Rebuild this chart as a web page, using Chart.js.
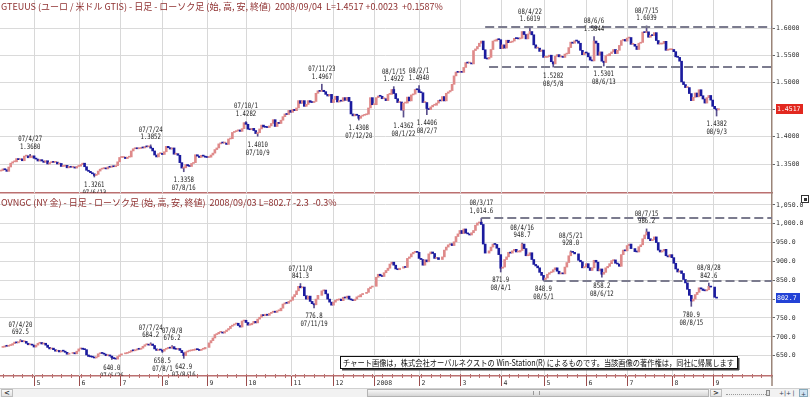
<!DOCTYPE html>
<html><head><meta charset="utf-8">
<script src="https://cdn.jsdelivr.net/npm/chart.js@4.4.1/dist/chart.umd.min.js"></script>
<style>
html,body{margin:0;padding:0;background:#fff;width:810px;height:397px;overflow:hidden;position:relative}
canvas{position:absolute;left:0}
#cTop{top:0}
#cBot{top:194px}
#sb{position:absolute;left:0;top:388px;width:810px;height:9px;background:#f2f2f2;border-top:1px solid #d0d0d0;box-sizing:border-box}
#sb div{position:absolute;box-sizing:border-box}
#lbtn,#rbtn{top:0;width:12px;height:8px;background:linear-gradient(#fafafa,#e2e2e2);border:1px solid #bdbdbd;font:bold 7px/6px 'DejaVu Sans';color:#333;text-align:center}
#lbtn{left:1px}#rbtn{left:710px}
#thumb{left:367px;top:0;width:342px;height:8px;background:linear-gradient(#f6f6f6,#d6d6d6);border:1px solid #b3b3b3}
#grip{left:165px;top:1px;width:7px;height:4px;border-left:1px solid #999;border-right:1px solid #999}
#mini{left:726px;top:5px;width:44px;height:1px;border-top:1px dotted #9a9a9a}
#mthumb{left:766px;top:1px;width:4px;height:6px;background:#e0e0e0;border:1px solid #8a8a8a}
.ic{top:0;width:9px;height:8px;font:6px/7px 'DejaVu Sans';color:#345;text-align:center}
</style></head>
<body>
<canvas id="cTop" width="810" height="194"></canvas>
<canvas id="cBot" width="810" height="194"></canvas>
<div id="sb">
  <div id="lbtn">&lt;</div>
  <div id="thumb"><div id="grip"></div></div>
  <div id="rbtn">&gt;</div>
  <div id="mini"></div><div id="mthumb"></div>
  <div class="ic" style="left:779px">+|+</div>
  <div class="ic" style="left:789px">|↔|</div>
  <div class="ic" style="left:799px;background:#cfe3f2;border:1px solid #8ab">+</div>
</div>
<script>
// ---------- axis / calendar (weekday slots, index 0 = 2007/04/06) ----------
const SLOTS = 397;
const monthStartIdx = [17,40,61,83,106,126,149,171,192,215,236,257,279,301,322,345,366];
const monthLabels = ['5','6','7','8','9','10','11','12','2008','2','3','4','5','6','7','8','9'];

// ---------- EUR/USD daily closes ----------
const eurFirstOpen = 1.3370;
const eurClose = [
 1.3380,1.3410,1.3395,1.3365,1.3445,1.3515,1.3540,1.3540,1.3600,1.3580,1.3595,1.3560,1.3645,1.3650,1.3615,1.3620,1.3650,
 1.3605,1.3590,1.3555,1.3580,1.3555,1.3530,1.3560,1.3500,1.3525,1.3540,1.3530,1.3535,1.3500,1.3510,1.3455,1.3460,1.3475,1.3430,1.3455,1.3440,1.3445,1.3425,1.3455,
 1.3460,1.3490,1.3515,1.3450,1.3385,1.3365,1.3340,1.3320,1.3290,1.3310,1.3370,1.3405,1.3415,1.3425,1.3410,1.3445,1.3440,1.3465,1.3450,1.3470,1.3540,
 1.3620,1.3620,1.3625,1.3600,1.3625,1.3630,1.3740,1.3780,1.3790,1.3780,1.3785,1.3800,1.3795,1.3820,1.3815,1.3815,1.3790,1.3740,1.3665,1.3630,1.3690,1.3695,
 1.3675,1.3725,1.3825,1.3800,1.3775,1.3795,1.3680,1.3690,1.3660,1.3525,1.3425,1.3430,1.3490,1.3465,1.3455,1.3510,1.3525,1.3670,1.3645,1.3620,1.3660,1.3645,1.3625,
 1.3620,1.3625,1.3665,1.3700,1.3765,1.3795,1.3870,1.3890,1.3885,1.3885,1.3860,1.3960,1.3965,1.4080,1.4095,1.4110,1.4125,1.4100,1.4150,1.4260,
 1.4230,1.4140,1.4130,1.4155,1.4115,1.4060,1.4075,1.4145,1.4215,1.4180,1.4175,1.4170,1.4200,1.4245,1.4315,1.4190,1.4265,1.4245,1.4305,1.4370,1.4420,1.4410,1.4485,
 1.4450,1.4505,1.4480,1.4530,1.4665,1.4615,1.4665,1.4560,1.4595,1.4665,1.4635,1.4630,1.4650,1.4800,1.4845,1.4835,1.4855,1.4830,1.4780,1.4750,1.4780,1.4630,
 1.4685,1.4745,1.4640,1.4665,1.4655,1.4720,1.4670,1.4725,1.4650,1.4420,1.4385,1.4415,1.4395,1.4340,1.4380,1.4395,1.4405,1.4415,1.4530,1.4720,1.4590,
 1.4590,1.4720,1.4750,1.4745,1.4700,1.4700,1.4665,1.4780,1.4780,1.4870,1.4795,1.4700,1.4630,1.4640,1.4490,1.4620,1.4620,1.4730,1.4660,1.4770,1.4785,1.4870,1.4865,
 1.4815,1.4810,1.4630,1.4630,1.4520,1.4500,1.4550,1.4580,1.4580,1.4620,1.4670,1.4660,1.4740,1.4660,1.4800,1.4825,1.4850,1.4965,1.5120,1.5190,1.5185,
 1.5200,1.5185,1.5275,1.5365,1.5355,1.5355,1.5340,1.5585,1.5615,1.5660,1.5720,1.5760,1.5600,1.5440,1.5430,1.5460,1.5605,1.5760,1.5760,1.5795,1.5785,
 1.5620,1.5690,1.5630,1.5775,1.5730,1.5740,1.5760,1.5810,1.5805,1.5800,1.5810,1.5935,1.5880,1.5800,1.5890,1.5935,1.5875,1.5690,1.5630,1.5630,1.5570,1.5595,
 1.5460,1.5460,1.5475,1.5500,1.5380,1.5340,1.5480,1.5510,1.5470,1.5470,1.5460,1.5520,1.5530,1.5640,1.5740,1.5720,1.5765,1.5760,1.5720,1.5590,1.5510,1.5550,
 1.5540,1.5470,1.5410,1.5395,1.5760,1.5720,1.5500,1.5560,1.5390,1.5365,1.5490,1.5490,1.5530,1.5560,1.5605,1.5530,1.5590,1.5680,1.5770,1.5790,1.5760,
 1.5815,1.5825,1.5700,1.5700,1.5665,1.5605,1.5720,1.5735,1.5925,1.5915,1.5930,1.5830,1.5865,1.5860,1.5915,1.5770,1.5705,1.5705,1.5715,1.5755,1.5590,1.5600,1.5600,
 1.5605,1.5565,1.5470,1.5460,1.5390,1.5010,1.4960,1.4905,1.4905,1.4795,1.4665,1.4725,1.4805,1.4735,1.4865,1.4755,1.4695,1.4620,1.4720,1.4760,1.4675,
 1.4560,1.4515,1.4494,1.4517
];
const eurTicks = [1.35,1.40,1.45,1.50,1.55,1.60];
const eurNoteIdx  = [15,48,77,94,126,132,165,184,202,207,215,219,272,284,305,310,332,368];
const eurNoteVal  = [1.3680,1.3261,1.3852,1.3358,1.4282,1.4010,1.4967,1.4308,1.4922,1.4362,1.4940,1.4406,1.6019,1.5282,1.5844,1.5301,1.6039,1.4382];
const eurNoteDate = ['07/4/27','07/6/13','07/7/24','07/8/16','07/10/1','07/10/9','07/11/23','07/12/20','08/1/15','08/1/22','08/2/1','08/2/7','08/4/22','08/5/8','08/6/6','08/6/13','08/7/15','08/9/3'];
const eurNoteHigh = [1,0,1,0,1,0,1,0,1,0,1,0,1,0,1,0,1,0];
const eurLevelVal  = [1.6019,1.5282];
const eurLevelFrom = [249,251];

// ---------- NY gold daily closes ----------
const goldFirstOpen = 672;
const goldClose = [
 null,673,676,675,677,678,682,686,684,687,690,687,688,683,679,680,678,
 673,678,683,685,681,683,678,672,668,670,666,662,664,660,663,662,659,654,656,null,658,655,662,
 668,670,667,666,652,648,647,646,644,647,655,657,656,654,650,652,649,645,642,641,648,
 652,655,null,656,658,660,664,663,665,668,667,670,675,679,680,678,681,677,668,664,667,665,
 662,667,669,672,670,674,668,667,669,664,658,650,660,662,663,664,665,668,666,664,667,668,672,
 null,684,690,697,706,708,712,712,710,714,718,722,728,731,734,736,730,726,742,744,
 738,731,732,736,741,737,747,752,759,756,760,757,762,765,768,765,769,769,776,787,790,789,794,
 797,806,812,822,834,830,832,809,800,808,794,788,785,800,810,null,822,824,814,800,792,784,
 792,797,798,800,796,805,803,808,800,798,796,800,806,806,812,815,null,818,828,832,834,
 null,858,866,862,860,870,876,882,893,898,890,880,878,882,null,886,884,908,912,920,924,926,924,
 908,905,890,904,899,920,925,921,908,910,905,null,912,930,938,944,947,942,952,966,973,
 982,974,986,975,973,970,976,982,996,1002,1004,998,946,922,null,928,938,946,945,935,918,
 882,885,905,912,924,922,928,932,925,925,929,946,934,915,916,923,905,892,888,883,871,863,
 852,856,866,870,872,878,883,874,867,868,867,885,897,915,925,924,920,null,903,899,883,886,
 894,883,876,883,903,898,875,880,866,871,883,887,894,902,904,895,893,887,918,930,928,
 942,946,934,null,926,925,939,944,960,970,978,960,955,958,965,950,930,925,928,932,915,912,918,
 910,895,880,872,875,868,852,843,826,810,795,800,812,818,830,827,823,822,825,834,832,
 null,805,802.7
];
const goldTicks = [650,700,750,800,850,900,950,1000,1050];
const goldNoteIdx  = [10,57,77,83,88,94,154,161,247,257,268,279,293,309,332,355,364];
const goldNoteVal  = [692.5,640.0,684.2,658.5,676.2,642.9,841.3,776.8,1014.6,871.9,948.7,848.9,928.0,858.2,986.2,780.9,842.6];
const goldNoteDate = ['07/4/20','07/6/26','07/7/24','07/8/1','07/8/8','07/8/16','07/11/8','07/11/19','08/3/17','08/4/1','08/4/16','08/5/1','08/5/21','08/6/12','08/7/15','08/8/15','08/8/28'];
const goldNoteHigh = [1,0,1,0,1,0,1,0,1,0,1,0,1,0,1,0,1];
const goldLevelVal  = [1014.6,848.9];
const goldLevelFrom = [247,279];

const topTitle = 'GTEUUS (ユーロ / 米ドル GTIS) - 日足 - ローソク足 (始, 高, 安, 終値)  2008/09/04  L=1.4517 +0.0023  +0.1587%';
const botTitle = 'OVNGC (NY 金) - 日足 - ローソク足 (始, 高, 安, 終値)  2008/09/03 L=802.7 -2.3  -0.3%';
const copyright = 'チャート画像は，株式会社オーバルネクストの Win-Station(R) によるものです。当該画像の著作権は，同社に帰属します';

// ---------- helpers ----------
const UP = '#df8a8a', DOWN = '#1b1b9e', WICK = '#5a4f8c';
const MONO = '"DejaVu Sans Mono", monospace';
const CJK = '"Noto Sans CJK JP", sans-serif';
const labels = Array.from({length: SLOTS}, (_, i) => i);

function bodies(closes, firstOpen) {
  const out = []; let prev = firstOpen;
  for (let i = 0; i < SLOTS; i++) {
    const c = closes[i];
    if (c === null || c === undefined) { out.push(null); continue; }
    out.push([prev, c]); prev = c;
  }
  return out;
}
function wicks(body, idx, vals, hi) {
  const out = new Array(SLOTS).fill(null);
  idx.forEach((i, k) => {
    const b = body[i]; if (!b) return;
    out[i] = hi[k] ? [Math.max(b[0], b[1]), vals[k]] : [vals[k], Math.min(b[0], b[1])];
  });
  return out;
}
function txt(ctx, s, x, y, font, color, align, maxW) {
  ctx.font = font; ctx.fillStyle = color; ctx.textAlign = align || 'left'; ctx.textBaseline = 'middle';
  if (maxW) ctx.fillText(s, x, y, maxW); else ctx.fillText(s, x, y);
}

function makeChart(id, c) {
  const body = bodies(c.closes, c.firstOpen);
  const wick = wicks(body, c.noteIdx, c.noteVal, c.noteHigh);
  const lastClose = c.closes[c.closes.length - 1];
  const deco = {
    id: 'deco',
    beforeDatasetsDraw(chart) {
      const {ctx, chartArea: a, scales: {x}} = chart;
      ctx.save(); ctx.strokeStyle = '#d8d8d8'; ctx.lineWidth = 1;
      monthStartIdx.forEach(i => {
        const px = Math.round(x.getPixelForValue(i)) + 0.5;
        ctx.beginPath(); ctx.moveTo(px, a.top); ctx.lineTo(px, a.bottom); ctx.stroke();
      });
      ctx.restore();
    },
    afterDatasetsDraw(chart) {
      const {ctx, chartArea: a, scales: {x, y}} = chart;
      ctx.save(); ctx.strokeStyle = '#7b7b8e'; ctx.lineWidth = 2; ctx.setLineDash([9, 4]);
      c.levelVal.forEach((v, k) => {
        const py = Math.round(y.getPixelForValue(v));
        ctx.beginPath(); ctx.moveTo(x.getPixelForValue(c.levelFrom[k]), py); ctx.lineTo(a.right, py); ctx.stroke();
      });
      ctx.restore();
    },
    afterDraw(chart) {
      const {ctx, chartArea: a, scales: {x, y}} = chart;
      // notes
      ctx.save();
      ctx.beginPath(); ctx.rect(a.left, a.top, a.right - a.left, a.bottom - a.top); ctx.clip();
      c.noteIdx.forEach((i, k) => {
        const px = x.getPixelForValue(i), py = y.getPixelForValue(c.noteVal[k]);
        const vs = c.fmt(c.noteVal[k]), ds = c.noteDate[k];
        const f = '7.5px ' + MONO;
        if (c.noteHigh[k]) {
          txt(ctx, ds, px, py - 15, f, '#222', 'center', ds.length * 3.4);
          txt(ctx, vs, px, py - 7.5, f, '#222', 'center', vs.length * 3.4);
        } else {
          txt(ctx, vs, px, py + 8.5, f, '#222', 'center', vs.length * 3.4);
          txt(ctx, ds, px, py + 16.5, f, '#222', 'center', ds.length * 3.4);
        }
      });
      ctx.restore();
      // title
      txt(ctx, c.title, 1, c.titleY, '9px ' + CJK, '#8e2f2f', 'left', c.titleW);
      // current price box
      const by = Math.round(y.getPixelForValue(lastClose));
      ctx.fillStyle = c.boxColor; ctx.fillRect(a.right + 4, by - 5, c.boxW, 10);
      txt(ctx, c.fmt(lastClose), a.right + 5, by, '6.5px ' + MONO, '#fff', 'left');
      if (c.bottom) {
        const y0 = a.bottom;
        ctx.save();
        ctx.strokeStyle = '#b86e6e'; ctx.lineWidth = 1;
        for (let i = 1; i < SLOTS; i += 5) {
          const px = Math.round(x.getPixelForValue(i)) + 0.5;
          ctx.beginPath(); ctx.moveTo(px, y0 - 2); ctx.lineTo(px, y0 + 2); ctx.stroke();
        }
        ctx.strokeStyle = '#9a4c4c';
        monthStartIdx.forEach((i, k) => {
          const px = Math.round(x.getPixelForValue(i)) + 0.5;
          ctx.beginPath(); ctx.moveTo(px, y0); ctx.lineTo(px, y0 + 10); ctx.stroke();
          txt(ctx, monthLabels[k], px + 2, y0 + 7, '6.5px ' + MONO, '#333', 'left');
        });
        ctx.strokeStyle = '#9a8478'; ctx.lineWidth = 1.5;
        ctx.beginPath(); ctx.moveTo(a.right, y0); ctx.lineTo(a.right, y0 + 10); ctx.stroke();
        ctx.restore();
        // copyright box
        const bx = 340, bw = 397, byy = 162, bh = 12;
        ctx.fillStyle = '#fff'; ctx.fillRect(bx, byy, bw, bh);
        ctx.strokeStyle = '#111'; ctx.lineWidth = 1; ctx.strokeRect(bx + 0.5, byy + 0.5, bw, bh);
        ctx.fillStyle = '#444'; ctx.fillRect(bx + 2, byy + bh + 1, bw, 1.5); ctx.fillRect(bx + bw + 1, byy + 2, 1.5, bh);
        txt(ctx, copyright, bx + 3, byy + 6.5, '8.5px ' + CJK, '#111', 'left', bw - 6);
        // small corner icon
        ctx.strokeStyle = '#333';
        ctx.strokeRect(801.5, 1.5, 7, 7); ctx.fillStyle = '#333'; ctx.fillRect(804, 4, 3, 3);
      }
    }
  };
  return new Chart(document.getElementById(id), {
    type: 'bar',
    data: {
      labels,
      datasets: [
        { data: body, grouped: false, order: 0, barThickness: 2, minBarLength: 1, borderWidth: 0,
          backgroundColor: ctx => { const r = ctx.raw; return (!r || r[1] >= r[0]) ? UP : DOWN; } },
        { data: wick, grouped: false, order: 1, barThickness: 1, minBarLength: 1, borderWidth: 0, backgroundColor: WICK }
      ]
    },
    options: {
      responsive: false, animation: false, devicePixelRatio: 1, events: [],
      layout: { padding: { top: c.padTop, left: 0, right: 0, bottom: 0 } },
      plugins: { legend: { display: false }, tooltip: { enabled: false } },
      scales: {
        x: { type: 'category', offset: true,
             grid: { display: false, drawTicks: false }, ticks: { display: false, autoSkip: false },
             border: { display: true, color: '#bb7070', width: 1.5 },
             afterFit(s) { s.height = c.xH; s.paddingLeft = 0; s.paddingRight = 0; } },
        y: { type: 'linear', position: 'right', min: c.min, max: c.max,
             afterBuildTicks(s) { s.ticks = c.ticks.map(v => ({ value: v })); },
             afterFit(s) { s.width = 38; s.paddingTop = 0; s.paddingBottom = 0; },
             grid: { color: '#dadada', lineWidth: 1, drawTicks: true, tickLength: 3, tickColor: '#666' },
             border: { color: '#9a8478', width: 1.5 },
             ticks: { padding: 1, color: '#333', font: { family: 'DejaVu Sans Mono', size: 6.5 },
                      callback: v => c.fmt(v) } }
      }
    },
    plugins: [deco]
  });
}

const EUR_PPU = 544; // px per unit, top panel
makeChart('cTop', {
  closes: eurClose, firstOpen: eurFirstOpen, ticks: eurTicks,
  min: 1.35 - 29 / EUR_PPU, max: 1.60 + 28 / EUR_PPU,
  fmt: v => Number(v).toFixed(4),
  noteIdx: eurNoteIdx, noteVal: eurNoteVal, noteDate: eurNoteDate, noteHigh: eurNoteHigh,
  levelVal: eurLevelVal, levelFrom: eurLevelFrom,
  title: topTitle, titleY: 7, titleW: 455, boxColor: '#e2281f', boxW: 27,
  padTop: 0, xH: 1, bottom: false
});
const GOLD_PPU = 18.86 / 50;
makeChart('cBot', {
  closes: goldClose, firstOpen: goldFirstOpen, ticks: goldTicks,
  min: 650 - (182 - 161.7) / GOLD_PPU, max: 1000 + (29.7 - 1) / GOLD_PPU,
  fmt: v => Number(v).toLocaleString('en-US', { minimumFractionDigits: 1, maximumFractionDigits: 1 }),
  noteIdx: goldNoteIdx, noteVal: goldNoteVal, noteDate: goldNoteDate, noteHigh: goldNoteHigh,
  levelVal: goldLevelVal, levelFrom: goldLevelFrom,
  title: botTitle, titleY: 9, titleW: 365, boxColor: '#2342d6', boxW: 24,
  padTop: 1, xH: 12, bottom: true
});
</script>
</body></html>
